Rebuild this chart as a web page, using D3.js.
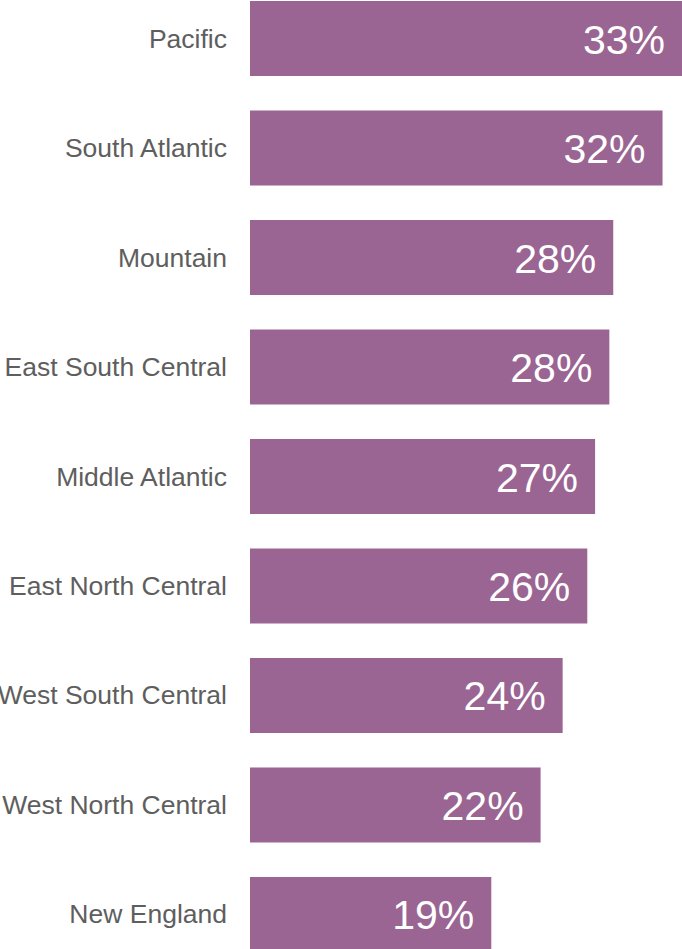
<!DOCTYPE html>
<html>
<head>
<meta charset="utf-8">
<script src="https://cdn.jsdelivr.net/npm/d3@7"></script>
<style>
  html, body { margin: 0; padding: 0; background: #ffffff; overflow: hidden; }
</style>
</head>
<body>
<div id="chart"></div>
<script>
// regiones y porcentajes
const regiones = ["Pacific", "South Atlantic", "Mountain", "East South Central", "Middle Atlantic",
  "East North Central", "West South Central", "West North Central", "New England"];
const valores = [33.3, 31.8, 28.0, 27.7, 26.6, 26.0, 24.1, 22.4, 18.6];
const etiquetas = ["33%", "32%", "28%", "28%", "27%", "26%", "24%", "22%", "19%"];

const width = 682, height = 949;
const colorBarra = "#9a6592";
const colorTexto = "#5e5e5e";
const fuente = "'Liberation Sans', Arial, Helvetica, sans-serif";

const datos = regiones.map((r, i) => ({ region: r, valor: valores[i], etiqueta: etiquetas[i] }));

const svg = d3.select("#chart")
  .append("svg")
  .attr("width", width)
  .attr("height", height)
  .style("font-family", fuente);

const x = d3.scaleLinear()
  .domain([0, d3.max(valores)])
  .range([250, 682]);

const y = d3.scaleBand()
  .domain(regiones)
  .range([1, 952])
  .paddingInner(0.315)
  .paddingOuter(0);

svg.selectAll("rect.barra")
  .data(datos)
  .join("rect")
  .attr("class", "barra")
  .attr("x", x(0))
  .attr("y", d => y(d.region))
  .attr("width", d => x(d.valor) - x(0))
  .attr("height", y.bandwidth())
  .attr("fill", colorBarra);

// nombres de las regiones
svg.selectAll("text.region")
  .data(datos)
  .join("text")
  .attr("class", "region")
  .attr("x", 227)
  .attr("y", d => y(d.region) + y.bandwidth() / 2)
  .attr("text-anchor", "end")
  .attr("dominant-baseline", "central")
  .attr("fill", colorTexto)
  .attr("font-size", 26.5)
  .text(d => d.region);

// porcentajes dentro de la barra
svg.selectAll("text.valor")
  .data(datos)
  .join("text")
  .attr("class", "valor")
  .attr("x", d => x(d.valor) - 17)
  .attr("y", d => y(d.region) + y.bandwidth() / 2 + 1)
  .attr("text-anchor", "end")
  .attr("dominant-baseline", "central")
  .attr("fill", "#ffffff")
  .attr("font-size", 41)
  .text(d => d.etiqueta);
</script>
</body>
</html>
